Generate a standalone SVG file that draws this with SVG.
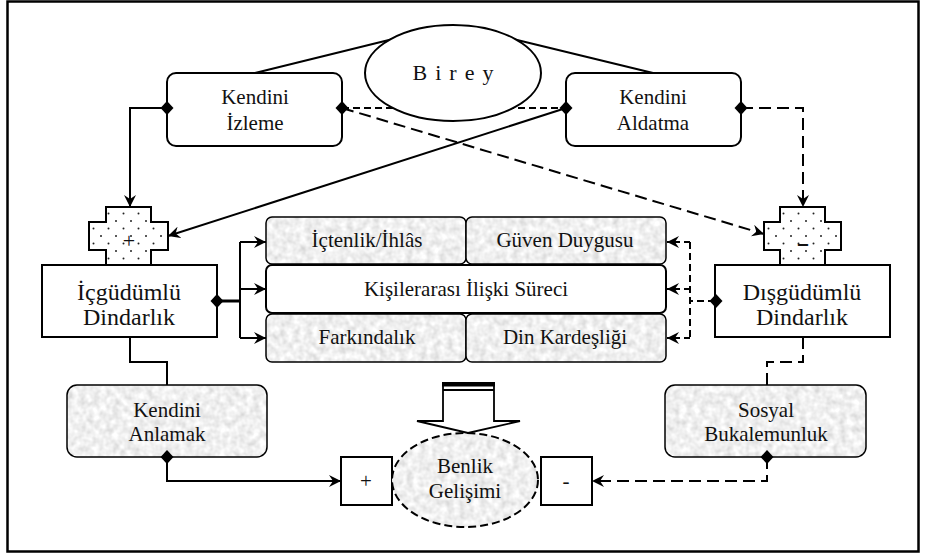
<svg xmlns="http://www.w3.org/2000/svg" width="927" height="555" viewBox="0 0 927 555" font-family="'Liberation Serif', 'DejaVu Serif', serif">
<style>
text{font-family:'Liberation Serif','DejaVu Serif',serif;fill:#111;text-anchor:middle}
.box{fill:#fff;stroke:#000;stroke-width:2}
.edge{fill:none;stroke:#000;stroke-width:2}
.ln{fill:none;stroke:#000;stroke-width:2}
.dash{fill:none;stroke:#000;stroke-width:2;stroke-dasharray:12 6}
.sdash{fill:none;stroke:#000;stroke-width:2;stroke-dasharray:7 4}
.tex{fill:#ddd;filter:url(#noise)}
.t21{font-size:21px}
.t24{font-size:24px}
</style>
<defs>
<filter id="noise" x="0" y="0" width="100%" height="100%">
<feTurbulence type="fractalNoise" baseFrequency="0.15" numOctaves="2" seed="3" result="n"/>
<feColorMatrix in="n" type="matrix" values="0.5 0 0 0 0.62  0.5 0 0 0 0.62  0.5 0 0 0 0.62  0 0 0 0 1" result="g"/>
<feComposite in="g" in2="SourceGraphic" operator="in"/>
</filter>
<pattern id="dots" width="15" height="15" patternUnits="userSpaceOnUse">
<rect width="15" height="15" fill="#fff"/>
<circle cx="3.5" cy="3.5" r="1" fill="#222"/>
<circle cx="11" cy="11" r="1" fill="#222"/>
</pattern>
<marker id="arr" markerUnits="userSpaceOnUse" markerWidth="14" markerHeight="12" refX="12" refY="6" orient="auto" viewBox="0 0 14 12">
<path d="M0,0 L12,6 L0,12 L4,6 Z" fill="#000"/>
</marker>
<polygon id="dia" points="0,-7 6.5,0 0,7 -6.5,0" fill="#000"/>
</defs>

<rect x="7.5" y="1.5" width="911" height="550" fill="#fff" stroke="#000" stroke-width="2.5"/>

<g id="kendini-izleme">
<rect class="box" x="167" y="73" width="175" height="73" rx="9"/>
<text class="t21" x="255" y="104">Kendini</text>
<text class="t21" x="255" y="130">İzleme</text>
</g>
<g id="kendini-aldatma">
<rect class="box" x="566" y="73" width="175" height="73" rx="9"/>
<text class="t21" x="653" y="104">Kendini</text>
<text class="t21" x="653" y="130">Aldatma</text>
</g>

<g id="cross-plus">
<polygon points="106,207 151,207 151,222 168,222 168,250 151,250 151,265 106,265 106,250 89,250 89,222 106,222" fill="url(#dots)" stroke="#000" stroke-width="2"/>
<text x="129" y="248" style="font-size:22px">+</text>
</g>
<g id="cross-minus">
<polygon points="780,207 825,207 825,222 841,222 841,250 825,250 825,265 780,265 780,250 764,250 764,222 780,222" fill="url(#dots)" stroke="#000" stroke-width="2"/>
<text x="803" y="251" style="font-size:24px;font-weight:bold" textLength="13" lengthAdjust="spacingAndGlyphs">-</text>
</g>

<g id="icgudumlu">
<rect class="box" x="42" y="265" width="175" height="72"/>
<text class="t24" x="129" y="300">İçgüdümlü</text>
<text class="t24" x="129" y="325">Dindarlık</text>
</g>
<g id="disgudumlu">
<rect class="box" x="715" y="265" width="175" height="72"/>
<text class="t24" x="802" y="300">Dışgüdümlü</text>
<text class="t24" x="802" y="325">Dindarlık</text>
</g>

<g id="ictenlik">
<rect class="tex" x="266" y="217" width="200" height="47" rx="6"/>
<rect class="edge" x="266" y="217" width="200" height="47" rx="6" style="stroke-width:1.5"/>
<text class="t21" x="367" y="247">İçtenlik/İhlâs</text>
</g>
<g id="guven">
<rect class="tex" x="466" y="217" width="200" height="47" rx="6"/>
<rect class="edge" x="466" y="217" width="200" height="47" rx="6" style="stroke-width:1.5"/>
<text class="t21" x="565" y="247">Güven Duygusu</text>
</g>
<g id="kisilerarasi">
<rect class="box" x="266" y="265" width="400" height="48" rx="6"/>
<text class="t21" x="466" y="296">Kişilerarası İlişki Süreci</text>
</g>
<g id="farkindalik">
<rect class="tex" x="266" y="314" width="200" height="48" rx="6"/>
<rect class="edge" x="266" y="314" width="200" height="48" rx="6" style="stroke-width:1.5"/>
<text class="t21" x="367" y="344">Farkındalık</text>
</g>
<g id="din-kardesligi">
<rect class="tex" x="466" y="314" width="200" height="48" rx="6"/>
<rect class="edge" x="466" y="314" width="200" height="48" rx="6" style="stroke-width:1.5"/>
<text class="t21" x="565" y="344">Din Kardeşliği</text>
</g>

<g id="kendini-anlamak">
<rect class="tex" x="67" y="385" width="200" height="72" rx="10"/>
<rect class="edge" x="67" y="385" width="200" height="72" rx="10" style="stroke-width:1.5"/>
<text class="t21" x="167" y="417">Kendini</text>
<text class="t21" x="167" y="441">Anlamak</text>
</g>
<g id="sosyal-bukalemunluk">
<rect class="tex" x="665" y="385" width="201" height="72" rx="10"/>
<rect class="edge" x="665" y="385" width="201" height="72" rx="10" style="stroke-width:1.5"/>
<text class="t21" x="766" y="417">Sosyal</text>
<text class="t21" x="766" y="441">Bukalemunluk</text>
</g>

<g id="plus-box">
<rect class="box" x="341" y="457" width="51" height="48"/>
<text x="366" y="488" style="font-size:21px">+</text>
</g>
<g id="minus-box">
<rect class="box" x="541" y="457" width="51" height="48"/>
<text x="566" y="488" style="font-size:21px">-</text>
</g>

<g id="benlik-gelisimi">
<ellipse class="tex" cx="465" cy="480" rx="73" ry="47"/>
<ellipse cx="465" cy="480" rx="73" ry="47" fill="none" stroke="#000" stroke-width="2" stroke-dasharray="8 4"/>
<text x="465" y="473" style="font-size:21px">Benlik</text>
<text x="465" y="498" style="font-size:21px">Gelişimi</text>
</g>

<g id="connectors">
<path class="ln" d="M255,73 L393,39"/>
<path class="ln" d="M513,39 L653,73"/>
<path class="ln" d="M167,108 H130 V207" marker-end="url(#arr)"/>
<path class="sdash" d="M342,108 H566"/>
<path class="dash" d="M342,108 L764,234" marker-end="url(#arr)"/>
<path class="ln" d="M566,108 L168,236" marker-end="url(#arr)"/>
<path class="dash" d="M741,108 H803 V207" marker-end="url(#arr)"/>
<path class="ln" d="M217,301 H240" style="stroke-width:3"/>
<path class="ln" d="M240,242 V338"/>
<path class="ln" d="M240,242 H266" marker-end="url(#arr)"/>
<path class="ln" d="M240,289 H266" marker-end="url(#arr)"/>
<path class="ln" d="M240,338 H266" marker-end="url(#arr)"/>
<path class="sdash" d="M715,301 H690"/>
<path class="sdash" d="M690,242 V338"/>
<path class="ln" d="M690,242 H667" marker-end="url(#arr)" style="stroke-dasharray:6 4"/>
<path class="ln" d="M690,289 H667" marker-end="url(#arr)" style="stroke-dasharray:6 4"/>
<path class="ln" d="M690,338 H667" marker-end="url(#arr)" style="stroke-dasharray:6 4"/>
<path class="ln" d="M130,337 V362 H167 V385"/>
<path class="ln" d="M167,457 V481 H341" marker-end="url(#arr)"/>
<path class="dash" d="M803,337 V362 H767 V385"/>
<path class="dash" d="M767,457 V481 H592" marker-end="url(#arr)"/>
<use href="#dia" x="167" y="108"/>
<use href="#dia" x="342" y="108"/>
<use href="#dia" x="566" y="108"/>
<use href="#dia" x="741" y="108"/>
<use href="#dia" x="217" y="301"/>
<use href="#dia" x="716" y="301"/>
<use href="#dia" x="167" y="457"/>
<use href="#dia" x="767" y="457"/>
</g>

<g id="birey">
<ellipse cx="453" cy="73" rx="88" ry="48" fill="#fff" stroke="#000" stroke-width="2"/>
<text x="457" y="80" style="font-size:22px;letter-spacing:8px">Birey</text>
</g>

<g id="big-arrow">
<path d="M443,421 L443,384 L494,384 L494,421 L520,421 L468,433 L417,421 Z" fill="#fff" stroke="#000" stroke-width="1.8" stroke-linejoin="miter"/>
<rect x="442" y="382" width="53" height="4.5" fill="#000"/>
<line x1="443" y1="390" x2="494" y2="390" stroke="#000" stroke-width="1.8"/>
</g>
</svg>
